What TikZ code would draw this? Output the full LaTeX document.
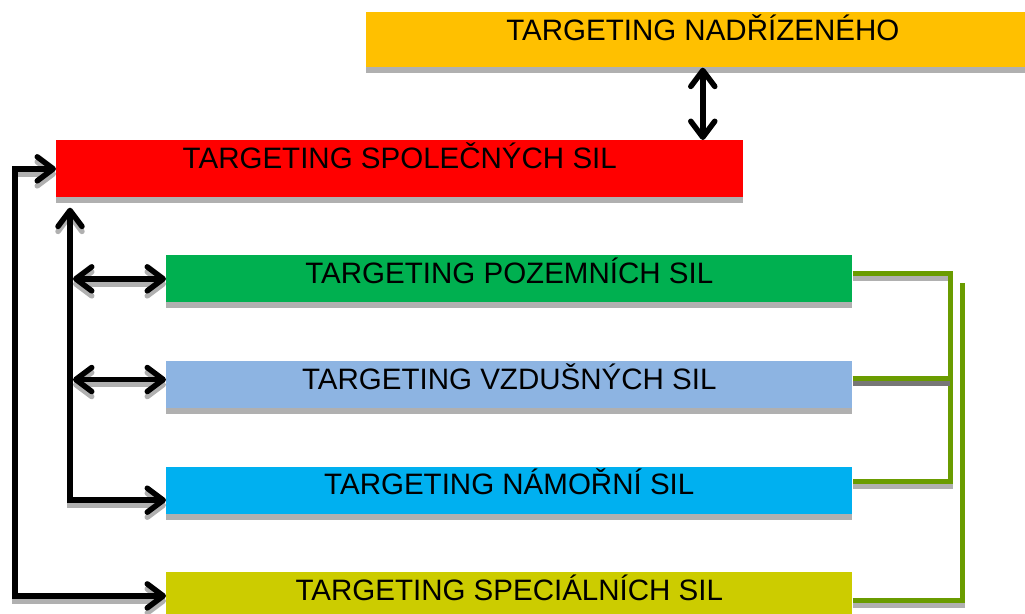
\documentclass[tikz,border=0pt]{standalone}
\usepackage{fontspec}
\setmainfont{Liberation Sans}
\usetikzlibrary{arrows.meta,positioning,shadows}
\definecolor{tgGold} {HTML}{FFC000}
\definecolor{tgRed}  {HTML}{FF0000}
\definecolor{tgGreen}{HTML}{00B050}
\definecolor{tgSky}  {HTML}{8DB4E2}
\definecolor{tgCyan} {HTML}{00B0F0}
\definecolor{tgOlive}{HTML}{CCCC00}
\definecolor{tgLink} {HTML}{6A9C00}
\definecolor{tgShade}{HTML}{B0B0B0}
\definecolor{tgDark} {HTML}{777777}
% a path drawn twice: grey copy shifted down, then the line itself
\newcommand{\dropline}[3][tgShade]{%
  \draw[#2,draw=#1,transform canvas={yshift=-0.1cm}] #3;
  \draw[#2] #3;}

\begin{document}
\begin{tikzpicture}[x=0.02cm,y=-0.02cm,
      font=\fontsize{16.8}{20}\selectfont,
      tbox/.style={rectangle,inner sep=0pt,minimum width=13.72cm,
                   text height=0.56cm,text depth=0.38cm,
                   drop shadow={shadow xshift=0cm,shadow yshift=-0.12cm,
                                fill=tgShade,opacity=1}},
      arr/.style={line width=0.11cm,<->,
                  >={Straight Barb[round,length=0.32cm,width=0.48cm]}},
      link/.style={line width=0.1cm,draw=tgLink}]

    \useasboundingbox (0,0) rectangle (1025,613);

    \node[tbox,fill=tgGold,text depth=0.54cm,minimum width=13.46cm,
          anchor=north west] (nadr) at (366,12) {TARGETING NADŘÍZENÉHO};
    \node[tbox,fill=tgRed,text depth=0.58cm,minimum width=13.74cm,
          anchor=north west] (spol) at (56,140) {TARGETING SPOLEČNÝCH SIL};

    \node[tbox,fill=tgGreen,anchor=north west] (pozem) at (166,255)
      {TARGETING POZEMNÍCH SIL};
    \node[tbox,fill=tgSky,below=1.16cm of pozem] (vzdus)
      {TARGETING VZDUŠNÝCH SIL};
    \node[tbox,fill=tgCyan,below=1.16cm of vzdus] (namor)
      {TARGETING NÁMOŘNÍ SIL};
    \node[tbox,fill=tgOlive,below=1.16cm of namor] (spec)
      {TARGETING SPECIÁLNÍCH SIL};

    % rails and joints of the connectors
    \coordinate (rail)  at (15,0);
    \coordinate (trunk) at (70,0);
    \coordinate (hub)   at (950,0);
    \coordinate (rail2) at (962,283);
    \coordinate (pozemR) at ([yshift=0.11cm]pozem.east);
    \coordinate (vzdusR) at ([yshift=0.13cm]vzdus.east);
    \coordinate (namorR) at ([yshift=0.17cm]namor.east);
    \coordinate (specR)  at ([yshift=-0.09cm]spec.east);

    \draw[arr] (nadr.south) -- (nadr.south |- spol.north);
    \dropline{arr}{(spol.west) -- (spol.west -| rail) |- (spec.west)}
    \dropline{arr,shorten >=0.2cm}{([yshift=-0.2cm]namor.west)
      -| (trunk |- spol.south)}
    \dropline{arr,shorten <=0.06cm}{(trunk |- pozem.west) -- (pozem.west)}
    \dropline{arr,shorten <=0.06cm}{([yshift=0.1cm]trunk |- vzdus.west)
      -- ([yshift=0.1cm]vzdus.west)}

    \dropline{link}{(pozemR) -| (hub |- namorR) -- (namorR)}
    \dropline[tgDark]{link}{(vzdusR) -- (hub |- vzdusR)}
    \dropline{link}{(specR) -| (rail2)}
  \end{tikzpicture}
\end{document}
